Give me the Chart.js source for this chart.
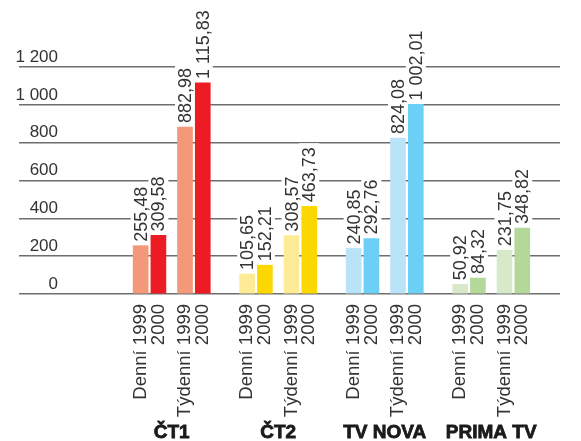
<!DOCTYPE html>
<html>
<head>
<meta charset="utf-8">
<script src="https://cdn.jsdelivr.net/npm/chart.js@4.4.1/dist/chart.umd.min.js"></script>
<style>
  html, body { margin: 0; padding: 0; background: #fff; }
  canvas { display: block; }
</style>
</head>
<body>
<canvas id="tvChart" width="581" height="441"></canvas>
<script>
const channels = ['ČT1', 'ČT2', 'TV NOVA', 'PRIMA TV'];
const barLabels = ['Denní 1999', '2000', 'Týdenní 1999', '2000'];
const ct1Values = [255.48, 309.58, 882.98, 1115.83];
const ct2Values = [105.65, 152.21, 308.57, 463.73];
const novaValues = [240.85, 292.76, 824.08, 1002.01];
const primaValues = [50.92, 84.32, 231.75, 348.82];
const yTickValues = [0, 200, 400, 600, 800, 1000, 1200];

// light = 1999, strong = 2000
const channelColors = [
    ['#f4987a', '#ed1c24'],
    ['#fdeb98', '#fcd800'],
    ['#b8e3f8', '#6bcff6'],
    ['#d8e9c9', '#b4d89a']
];

const FONT = "'Liberation Sans', Arial, sans-serif";
const TEXT_COLOR = '#333';
const GRID_COLOR = '#6e6e6e';

// every channel gets 24 narrow category slots, bars sit in slots 0, 4, 10, 14
const LEAD = 17;
const PER_GROUP = 24;
const BAR_SLOTS = [0, 4, 10, 14];
const TOTAL_SLOTS = 112;

function czNum(v, dec) {
    const parts = v.toFixed(dec).split('.');
    const whole = parts[0].replace(/\B(?=(\d{3})+(?!\d))/g, ' ');
    return dec ? whole + ',' + parts[1] : whole;
}

const seriesByChannel = [ct1Values, ct2Values, novaValues, primaValues];
const xLabels = new Array(TOTAL_SLOTS).fill('');
const groupLabels = new Array(TOTAL_SLOTS).fill('');
const values = new Array(TOTAL_SLOTS).fill(null);
const colors = new Array(TOTAL_SLOTS).fill('#fff');

channels.forEach((name, g) => {
    const start = LEAD + g * PER_GROUP;
    groupLabels[start + 7] = name;
    BAR_SLOTS.forEach((s, b) => {
        xLabels[start + s] = barLabels[b];
        values[start + s] = seriesByChannel[g][b];
        colors[start + s] = channelColors[g][b % 2];
    });
});

const valueLabels = {
    id: 'valueLabels',
    beforeDatasetsDraw(chart) {
        // white boxes behind the labels, they cut the grid lines
        const ctx = chart.ctx;
        ctx.save();
        ctx.font = '18px ' + FONT;
        ctx.fillStyle = '#fff';
        chart.getDatasetMeta(0).data.forEach((bar, i) => {
            const v = values[i];
            if (v == null) return;
            const w = ctx.measureText(czNum(v, 2)).width;
            ctx.fillRect(bar.x - 10, bar.y - w - 8, 20, w + 6);
        });
        ctx.restore();
    },
    afterDatasetsDraw(chart) {
        const ctx = chart.ctx;
        ctx.save();
        ctx.font = '18px ' + FONT;
        ctx.fillStyle = TEXT_COLOR;
        ctx.textAlign = 'left';
        ctx.textBaseline = 'middle';
        chart.getDatasetMeta(0).data.forEach((bar, i) => {
            const v = values[i];
            if (v == null) return;
            ctx.save();
            ctx.translate(bar.x, bar.y - 4);
            ctx.rotate(-Math.PI / 2);
            ctx.fillText(czNum(v, 2), 0, 1);
            ctx.restore();
        });
        ctx.restore();
    }
};

function noSidePadding(scale) {
    scale.paddingLeft = 0;
    scale.paddingRight = 0;
}

const ctx = document.getElementById('tvChart').getContext('2d');
const tvChart = new Chart(ctx, {
    type: 'bar',
    data: {
        labels: xLabels,
        datasets: [{
            data: values,
            backgroundColor: colors,
            barThickness: 15,
            xAxisID: 'x',
            yAxisID: 'y'
        }]
    },
    options: {
        responsive: false,
        animation: false,
        layout: { autoPadding: false, padding: { top: 67, left: 0, right: 21, bottom: 0 } },
        plugins: {
            legend: { display: false },
            tooltip: { enabled: false }
        },
        scales: {
            x: {
                type: 'category',
                weight: 0,
                offset: true,
                grid: { display: false, drawTicks: false },
                border: { display: false },
                ticks: {
                    autoSkip: false,
                    minRotation: 90,
                    maxRotation: 90,
                    padding: 10,
                    color: TEXT_COLOR,
                    font: { family: FONT, size: 18.5 }
                },
                afterFit: scale => { scale.height = 124; noSidePadding(scale); }
            },
            x2: {
                type: 'category',
                position: 'bottom',
                weight: 1,
                offset: true,
                labels: groupLabels,
                grid: { display: false, drawTicks: false },
                border: { display: false },
                ticks: {
                    autoSkip: false,
                    maxRotation: 0,
                    padding: 3,
                    color: '#1a1a1a',
                    textStrokeColor: '#1a1a1a',
                    textStrokeWidth: 0.8,
                    font: { family: FONT, size: 19, weight: 'bold' }
                },
                afterFit: scale => { scale.height = 23; noSidePadding(scale); }
            },
            y: {
                min: 0,
                max: 1200,
                afterBuildTicks: axis => { axis.ticks = yTickValues.map(v => ({ value: v })); },
                // long tick marks continue the grid lines under the labels
                grid: { color: GRID_COLOR, lineWidth: 1.6, drawTicks: true, tickLength: 44 },
                border: { display: false },
                ticks: {
                    padding: -39,
                    labelOffset: -10,
                    color: TEXT_COLOR,
                    font: { family: FONT, size: 17 },
                    callback: v => czNum(v, 0)
                },
                afterFit: scale => { scale.width = 63; }
            }
        }
    },
    plugins: [valueLabels]
});
</script>
</body>
</html>
